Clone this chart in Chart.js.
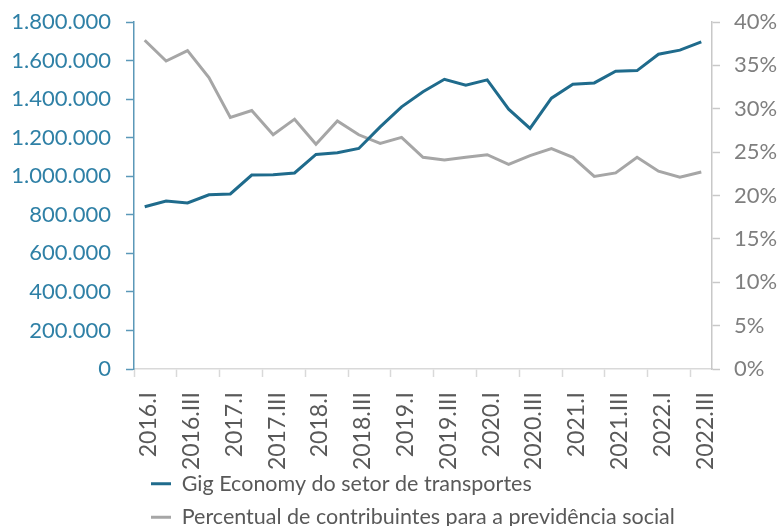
<!DOCTYPE html>
<html><head><meta charset="utf-8">
<script src="https://cdn.jsdelivr.net/npm/chart.js@4/dist/chart.umd.min.js"></script>
<style>html,body{margin:0;padding:0;background:#fff;}canvas{display:block;}</style>
</head><body>
<canvas id="c" width="779" height="526"></canvas>
<script>
const categories = [
  '2016.I','2016.II','2016.III','2016.IV',
  '2017.I','2017.II','2017.III','2017.IV',
  '2018.I','2018.II','2018.III','2018.IV',
  '2019.I','2019.II','2019.III','2019.IV',
  '2020.I','2020.II','2020.III','2020.IV',
  '2021.I','2021.II','2021.III','2021.IV',
  '2022.I','2022.II','2022.III'
];
const gigEconomy = [842000, 871000, 861000, 904000, 908000, 1006000, 1008000, 1017000, 1113000, 1122000, 1144000, 1256000, 1360000, 1438000, 1503000, 1472000, 1500000, 1348000, 1248000, 1405000, 1477000, 1484000, 1545000, 1548000, 1633000, 1654000, 1697000];
const contribuintes = [37.9, 35.5, 36.7, 33.6, 29.0, 29.8, 27.0, 28.8, 25.9, 28.6, 27.0, 26.0, 26.7, 24.4, 24.1, 24.4, 24.7, 23.6, 24.6, 25.4, 24.4, 22.2, 22.6, 24.4, 22.8, 22.1, 22.7];
const seriesNames = ['Gig Economy do setor de transportes', 'Percentual de contribuintes para a previdência social'];
const leftAxisMax = 1800000, leftAxisStep = 200000;
const rightAxisMax = 40, rightAxisStep = 5;

const BLUE = '#1f6b8c', GRAY = '#a6a6a6';
const FONT = 'Lato';

function fmtThousands(v){ return String(v).replace(/\B(?=(\d{3})+(?!\d))/g, '.'); }

const legendPlacer = {
  id: 'legendPlacer',
  afterLayout(chart){
    const lg = chart.legend;
    if (!lg) return;
    const w = lg.right - lg.left;
    lg.left = 139; lg.right = 139 + w;
    lg.top = 461; lg.bottom = 526;
  }
};

function noPadV(s){ s.paddingTop = 0; s.paddingBottom = 0; }

new Chart(document.getElementById('c'), {
  type: 'line',
  data: {
    labels: categories,
    datasets: [
      { label: seriesNames[0], data: gigEconomy, yAxisID: 'y', borderColor: BLUE, backgroundColor: BLUE,
        borderWidth: 3, pointRadius: 0, tension: 0 },
      { label: seriesNames[1], data: contribuintes, yAxisID: 'y2', borderColor: GRAY, backgroundColor: GRAY,
        borderWidth: 3, pointRadius: 0, tension: 0 }
    ]
  },
  options: {
    responsive: false,
    animation: false,
    layout: { padding: { top: 22, left: 0, right: 0, bottom: 0 } },
    plugins: {
      tooltip: { enabled: false },
      legend: {
        position: 'bottom',
        align: 'start',
        maxHeight: 52,
        labels: {
          usePointStyle: true, pointStyle: 'line', pointStyleWidth: 20, boxWidth: 20, boxHeight: 20,
          padding: 12, color: '#595959', font: { family: FONT, size: 21.5 }
        }
      }
    },
    scales: {
      x: {
        offset: true,
        grid: { display: true, offset: true, drawOnChartArea: false, tickLength: 8,
          tickColor: (ctx) => (ctx.index !== undefined && ctx.index % 2 === 0) ? '#d9d9d9' : 'rgba(0,0,0,0)',
          tickWidth: 1.5 },
        border: { display: true, color: '#d9d9d9', width: 1.5 },
        ticks: {
          autoSkip: false, minRotation: 90, maxRotation: 90, padding: 15, labelOffset: 4,
          color: '#595959', font: { family: FONT, size: 23 },
          callback: function(v, i){ return (i % 2) ? '' : categories[i]; }
        },
        afterFit(s){ s.height = 105; s.paddingLeft = 0; s.paddingRight = 0; }
      },
      y: {
        position: 'left', min: 0, max: leftAxisMax,
        grid: { display: true, drawOnChartArea: false, tickLength: 8, color: '#5b98b8', tickWidth: 1.5 },
        border: { display: true, color: '#5b98b8', width: 1.5 },
        ticks: { stepSize: leftAxisStep, padding: 15, color: '#2f80a6', font: { family: FONT, size: 22 },
          callback: (v) => fmtThousands(v) },
        afterFit(s){ s.width = 134; noPadV(s); }
      },
      y2: {
        position: 'right', min: 0, max: rightAxisMax,
        grid: { display: true, drawOnChartArea: false, tickLength: 8, color: '#c8c8c8', tickWidth: 1.5 },
        border: { display: true, color: '#c8c8c8', width: 1.5 },
        ticks: { stepSize: rightAxisStep, padding: 14, color: '#7f7f7f', font: { family: FONT, size: 22 },
          callback: (v) => v + '%' },
        afterFit(s){ s.width = 67; noPadV(s); }
      }
    }
  },
  plugins: [legendPlacer]
});
</script>
</body></html>
